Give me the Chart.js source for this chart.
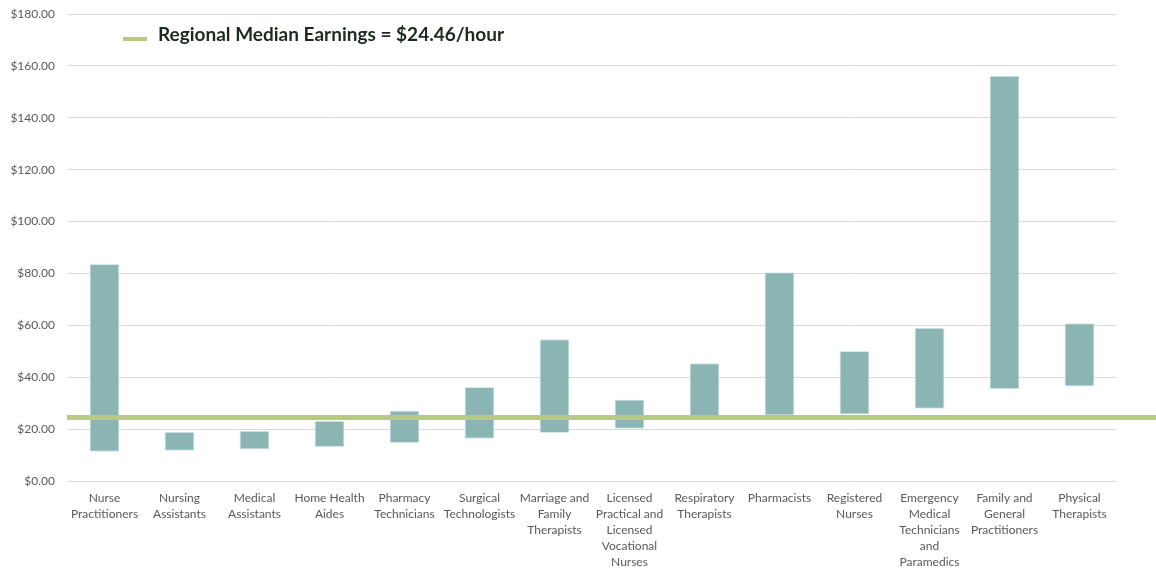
<!DOCTYPE html>
<html lang="en">
  <head>
    <meta charset="UTF-8" />
    <title>Healthcare Occupation Earnings Range</title>
    <script src="https://cdn.jsdelivr.net/npm/chart.js"></script>
    <style>
      body { margin: 0; background: #fff; }
      #wrap { width: 1156px; height: 572px; }
    </style>
  </head>
  <body>
    <div id="wrap"><canvas id="earningsChart" width="1156" height="572"></canvas></div>

    <script>
      // occupations (wrapped the way the axis shows them)
      const occupations = [
        ["Nurse", "Practitioners"],
        ["Nursing", "Assistants"],
        ["Medical", "Assistants"],
        ["Home Health", "Aides"],
        ["Pharmacy", "Technicians"],
        ["Surgical", "Technologists"],
        ["Marriage and", "Family", "Therapists"],
        ["Licensed", "Practical and", "Licensed", "Vocational", "Nurses"],
        ["Respiratory", "Therapists"],
        ["Pharmacists"],
        ["Registered", "Nurses"],
        ["Emergency", "Medical", "Technicians", "and", "Paramedics"],
        ["Family and", "General", "Practitioners"],
        ["Physical", "Therapists"],
      ];

      // hourly earnings range, low and high end of each bar
      const lowEarnings = [11.3, 11.7, 12.1, 13.1, 14.6, 16.3, 18.5, 20.1, 24.0, 25.2, 25.6, 27.8, 35.4, 36.4];
      const highEarnings = [83.6, 19.0, 19.4, 23.2, 27.2, 36.2, 54.6, 31.4, 45.4, 80.5, 50.1, 59.1, 156.2, 60.8];

      const medianEarnings = 24.46;
      const medianLabel = "Regional Median Earnings = $24.46/hour";

      const yMax = 180;
      const yStep = 20;

      const barColor = "#8ab5b3";
      const medianColor = "#b6ca86";

      // green median line drawn across the plot, plus its legend entry
      const medianPlugin = {
        id: "medianLine",
        afterDatasetsDraw(chart) {
          const c = chart.ctx;
          const y = chart.scales.y.getPixelForValue(medianEarnings);
          c.save();
          c.strokeStyle = medianColor;
          c.lineWidth = 5;
          c.beginPath();
          c.moveTo(chart.chartArea.left, y);
          c.lineTo(chart.width, y);
          c.stroke();

          // legend
          c.lineWidth = 4;
          c.beginPath();
          c.moveTo(123, 39);
          c.lineTo(147, 39);
          c.stroke();
          c.fillStyle = "#1d2a1d";
          c.font = "bold 19px Lato";
          c.textBaseline = "middle";
          c.fillText(medianLabel, 158, 35);
          c.restore();
        },
      };

      const ctx = document.getElementById("earningsChart").getContext("2d");
      const earningsChart = new Chart(ctx, {
        type: "bar",
        data: {
          labels: occupations,
          datasets: [
            {
              label: "Earnings range",
              data: lowEarnings.map((lo, i) => [lo, highEarnings[i]]),
              backgroundColor: barColor,
              borderColor: "#d6eaea",
              borderWidth: 1,
              borderSkipped: false,
              barPercentage: 0.4,
              categoryPercentage: 1,
            },
          ],
        },
        options: {
          responsive: false,
          animation: false,
          layout: { padding: { top: 14, right: 39, bottom: 0, left: 0 } },
          plugins: {
            legend: { display: false },
            tooltip: { enabled: false },
          },
          scales: {
            x: {
              grid: { display: false, drawTicks: false },
              border: { display: false },
              ticks: {
                autoSkip: false,
                maxRotation: 0,
                padding: 9,
                color: "#595959",
                font: { family: "Lato", size: 12, lineHeight: 1.33 },
              },
              afterFit(scale) {
                scale.height = 91;
              },
            },
            y: {
              min: 0,
              max: yMax,
              grid: { color: "#d9d9d9", drawTicks: false },
              border: { display: false },
              ticks: {
                stepSize: yStep,
                padding: 12,
                color: "#595959",
                font: { family: "Lato", size: 12 },
                callback: (v) => "$" + v.toFixed(2),
              },
              afterFit(scale) {
                scale.width = 67;
                scale.paddingTop = 0;
                scale.paddingBottom = 0;
              },
            },
          },
        },
        plugins: [medianPlugin],
      });
    </script>
  </body>
</html>
